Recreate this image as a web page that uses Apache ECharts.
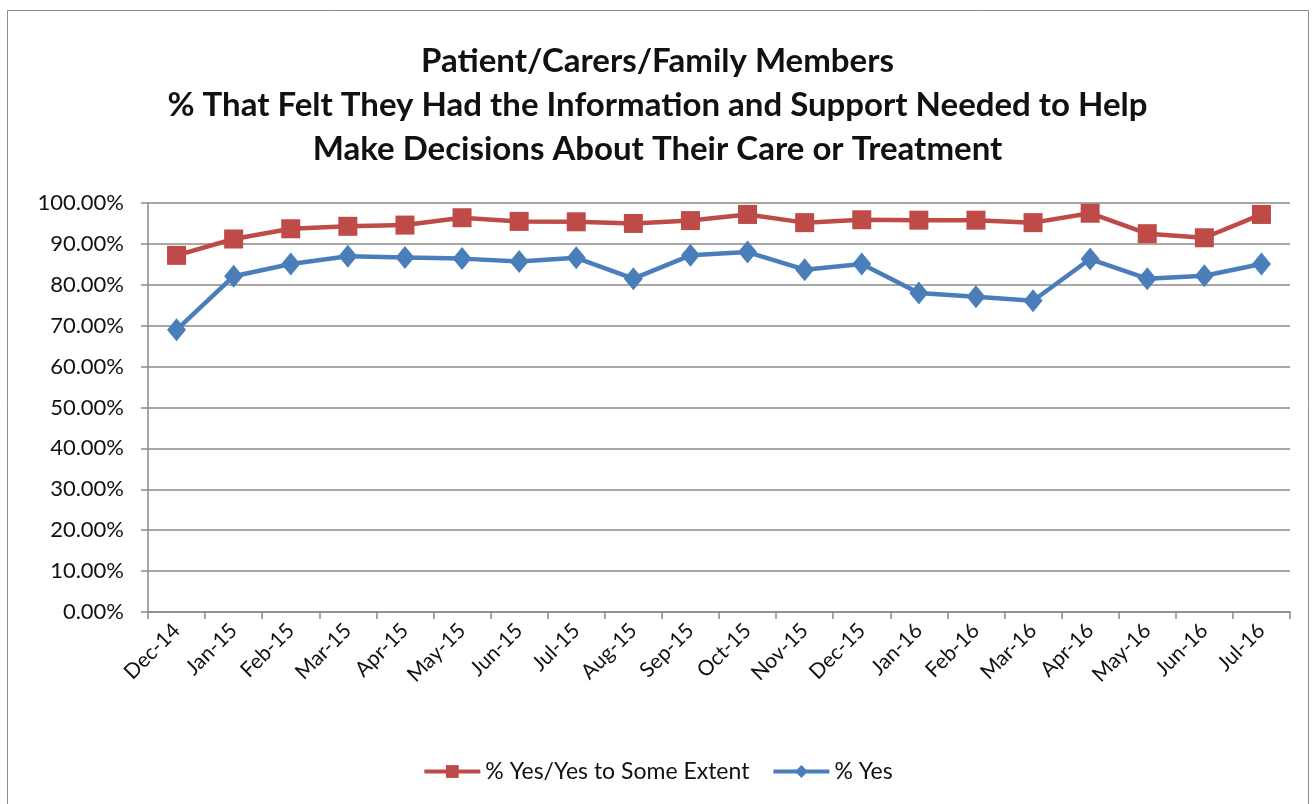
<!DOCTYPE html>
<html>
<head>
<meta charset="utf-8">
<script src="https://cdn.jsdelivr.net/npm/echarts@6/dist/echarts.min.js"></script>
<style>
  html, body { margin: 0; padding: 0; background: #ffffff; }
  #chart { width: 1315px; height: 804px; }
</style>
</head>
<body>
<div id="chart"></div>
<script>
// Monthly survey results
const months = ['Dec-14','Jan-15','Feb-15','Mar-15','Apr-15','May-15','Jun-15','Jul-15','Aug-15','Sep-15','Oct-15',
  'Nov-15','Dec-15','Jan-16','Feb-16','Mar-16','Apr-16','May-16','Jun-16','Jul-16'];
const yesOrSomeExtent = [87.2, 91.2, 93.7, 94.3, 94.6, 96.4, 95.5, 95.4, 95.0, 95.7, 97.2,
  95.2, 95.9, 95.8, 95.8, 95.2, 97.5, 92.5, 91.5, 97.2];
const yesOnly = [69.0, 82.1, 85.1, 87.0, 86.7, 86.4, 85.7, 86.6, 81.5, 87.2, 88.0,
  83.7, 85.1, 78.0, 77.1, 76.1, 86.3, 81.5, 82.2, 85.1];
const seriesNames = ['% Yes/Yes to Some Extent', '% Yes'];
const titleLines = ['Patient/Carers/Family Members',
  '% That Felt They Had the Information and Support Needed to Help',
  'Make Decisions About Their Care or Treatment'];

const FONT = 'Lato, "Open Sans", sans-serif';
const RED = '#BE4B48';
const BLUE = '#4A7EBB';
const GRID = '#8a8a8a';

const chart = echarts.init(document.getElementById('chart'));
chart.setOption({
  backgroundColor: '#ffffff',
  animation: false,
  title: {
    text: titleLines.join('\n'),
    left: 'center',
    top: 34,
    textStyle: { fontFamily: FONT, fontWeight: 'bold', fontSize: 33, color: '#111111', lineHeight: 44 }
  },
  graphic: [{
    type: 'rect',
    shape: { x: 7.5, y: 10.5, width: 1301, height: 800 },
    style: { fill: 'none', stroke: '#8c8c8c', lineWidth: 1 },
    silent: true
  }],
  legend: {
    bottom: 16,
    left: 'center',
    itemWidth: 56,
    itemHeight: 16,
    itemGap: 22,
    lineStyle: { width: 4 },
    textStyle: { fontFamily: FONT, fontSize: 23, color: '#111111' },
    data: seriesNames
  },
  grid: { left: 148, right: 25, top: 203, bottom: 192, containLabel: false },
  xAxis: {
    type: 'category',
    data: months,
    boundaryGap: true,
    axisLine: { lineStyle: { color: GRID, width: 1.5 } },
    axisTick: { show: true, alignWithLabel: false, length: 7, lineStyle: { color: GRID, width: 1.5 } },
    axisLabel: { rotate: 45, fontFamily: FONT, fontSize: 21, color: '#111111', margin: 15, interval: 0 },
    splitLine: { show: false }
  },
  yAxis: {
    type: 'value',
    min: 0,
    max: 100,
    interval: 10,
    axisLine: { show: true, lineStyle: { color: GRID, width: 1.5 } },
    axisTick: { show: true, inside: false, length: 7, lineStyle: { color: GRID, width: 1.5 } },
    axisLabel: {
      fontFamily: FONT, fontSize: 22, color: '#111111', margin: 24,
      formatter: v => v.toFixed(2) + '%'
    },
    splitLine: { show: true, lineStyle: { color: GRID, width: 1.5 } }
  },
  series: [
    {
      name: seriesNames[0],
      type: 'line',
      data: yesOrSomeExtent,
      symbol: 'rect',
      symbolSize: 19,
      lineStyle: { color: RED, width: 4.5 },
      itemStyle: { color: RED },
      z: 3
    },
    {
      name: seriesNames[1],
      type: 'line',
      data: yesOnly,
      symbol: 'diamond',
      symbolSize: [19, 23],
      lineStyle: { color: BLUE, width: 4.5 },
      itemStyle: { color: BLUE },
      z: 4
    }
  ]
});
</script>
</body>
</html>
